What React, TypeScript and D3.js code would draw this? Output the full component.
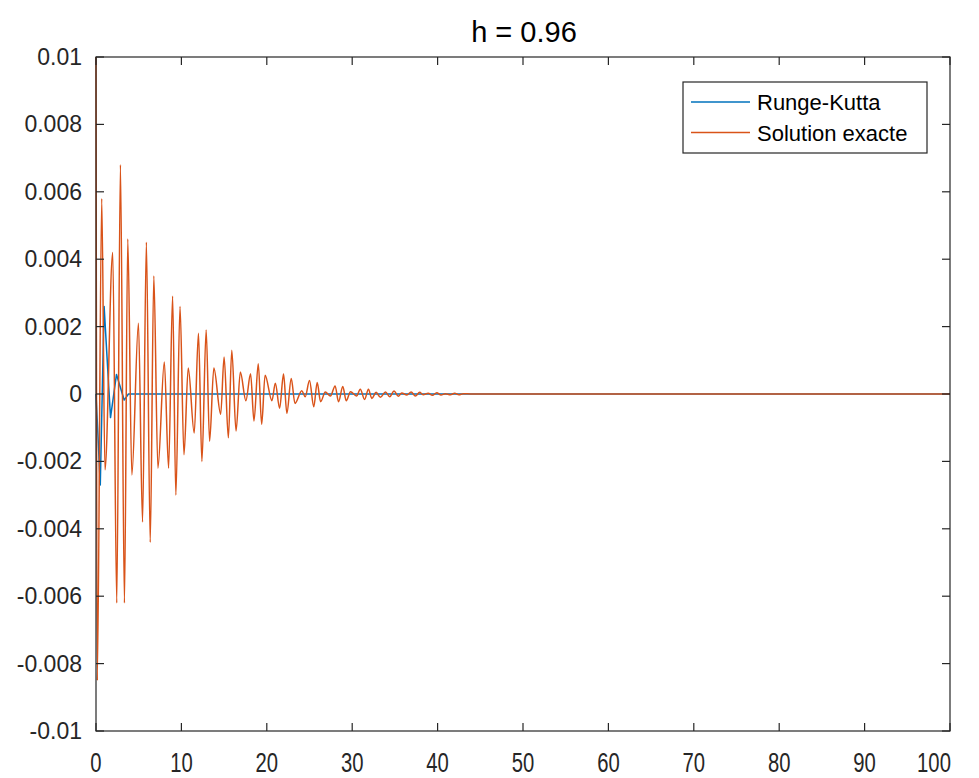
import React, { useEffect, useRef } from 'react';
import * as d3 from 'd3';

// tick labels
const xTicks = [0, 10, 20, 30, 40, 50, 60, 70, 80, 90, 100];
const yTicks = [-0.01, -0.008, -0.006, -0.004, -0.002, 0, 0.002, 0.004, 0.006, 0.008, 0.01];
const yTickLabels = ['-0.01', '-0.008', '-0.006', '-0.004', '-0.002', '0', '0.002', '0.004', '0.006', '0.008', '0.01'];

// Runge-Kutta
const rkT = [0, 0.5, 0.95, 1.7, 2.4, 3.3, 3.8, 100];
const rkV = [0, -0.0027, 0.0026, -0.0007, 0.00058, -0.00018, 0, 0];

// Solution exacte (peaks / troughs)
const exT = [
  0, 0.15, 0.67, 1.05, 1.96, 2.43, 2.86, 3.33, 3.72, 4.2, 4.97, 5.45, 5.9, 6.35, 6.77, 7.25,
  8.0, 8.5, 8.97, 9.35, 9.84, 10.3, 10.8, 11.5, 12.0, 12.4, 12.9, 13.3, 13.8, 14.6, 15.0, 15.5,
  15.9, 16.4, 16.9, 17.55, 18.1, 18.5, 19.0, 19.4, 19.8, 20.6, 21.0, 21.5, 21.96, 22.35, 22.86, 23.3,
  24.1, 24.5, 25.0, 25.5, 25.9, 26.3, 26.85, 27.45, 28.0, 28.4, 28.9, 29.3, 29.8, 30.5, 30.95, 31.45,
  31.9, 32.3, 32.8, 33.3, 33.9, 34.4, 34.9, 35.4, 35.8, 36.4, 36.9, 37.4, 37.9, 38.3, 38.9, 39.4,
  39.9, 40.4, 40.9, 41.5, 42.0, 42.5, 43.0, 44.0, 100
];
const exV = [
  0.01, -0.0085, 0.0058, -0.00225, 0.0042, -0.0062, 0.0068, -0.0062, 0.0046, -0.0024, 0.0021, -0.0038, 0.0045, -0.0044, 0.0035, -0.0022,
  0.00095, -0.0022, 0.0029, -0.003, 0.0026, -0.0018, 0.00077, -0.00116, 0.0018, -0.002, 0.0019, -0.0014, 0.00077, -0.0006, 0.0011, -0.0013,
  0.0013, -0.0011, 0.00065, -0.0002, 0.0006, -0.0008, 0.0009, -0.0009, 0.00056, -0.0002, 0.00032, -0.00042, 0.00059, -0.00057, 0.00046, -0.00028,
  0.0001, -0.00008, 0.0004, -0.00038, 0.00034, -0.00023, 0.00006, -0.00006, 0.00024, -0.00023, 0.00022, -0.0002, 0.00007, -0.00006, 0.00014, -0.00016,
  0.00014, -0.00013, 0.00005, -0.0001, 0.00006, -0.00008, 0.00009, -0.00007, 0.00003, -0.00003, 0.00006, -0.00006, 0.00005, -0.00002, 0.00002, -0.00004,
  0.00004, -0.00003, 0.00001, -0.00002, 0.00002, -0.00002, 0.00001, 0, 0
];

const seriesNames = ['Runge-Kutta', 'Solution exacte'];
const colors = ['#0072BD', '#D95319'];

export default function App() {
  const ref = useRef<SVGSVGElement>(null);

  useEffect(() => {
    const width = 979;
    const height = 778;
    const m = { l: 96, r: 29, t: 57, b: 47 };
    const font = '"Liberation Sans", Arial, sans-serif';
    const axisColor = '#262626';

    const svg = d3.select(ref.current).attr('width', width).attr('height', height);
    svg.selectAll('*').remove();

    const x = d3.scaleLinear().domain([0, 100]).range([m.l, width - m.r]);
    const y = d3.scaleLinear().domain([-0.01, 0.01]).range([height - m.b, m.t]);

    svg.append('rect').attr('width', width).attr('height', height).attr('fill', '#fff');

    // lines
    const rkLine = d3.line<[number, number]>().x(d => x(d[0])).y(d => y(d[1]));
    const exLine = d3.line<[number, number]>().x(d => x(d[0])).y(d => y(d[1])).curve(d3.curveMonotoneX);
    const rk: [number, number][] = rkT.map((t, i) => [t, rkV[i]]);
    const ex: [number, number][] = exT.map((t, i) => [t, exV[i]]);
    [[rk, rkLine], [ex, exLine]].forEach(([data, gen]: any, i) => {
      svg.append('path')
        .datum(data)
        .attr('d', gen)
        .attr('fill', 'none')
        .attr('stroke', colors[i])
        .attr('stroke-width', 1.5)
        .attr('stroke-linejoin', 'round');
    });

    // box + ticks (inward, MATLAB style)
    const tickLen = 8;
    const g = svg.append('g').attr('stroke', axisColor).attr('stroke-width', 1.2);
    g.append('rect')
      .attr('x', x(0)).attr('y', y(0.01))
      .attr('width', x(100) - x(0)).attr('height', y(-0.01) - y(0.01))
      .attr('fill', 'none');
    xTicks.forEach(t => {
      g.append('line').attr('x1', x(t)).attr('x2', x(t)).attr('y1', y(-0.01)).attr('y2', y(-0.01) - tickLen);
      g.append('line').attr('x1', x(t)).attr('x2', x(t)).attr('y1', y(0.01)).attr('y2', y(0.01) + tickLen);
    });
    yTicks.forEach(v => {
      g.append('line').attr('x1', x(0)).attr('x2', x(0) + tickLen).attr('y1', y(v)).attr('y2', y(v));
      g.append('line').attr('x1', x(100)).attr('x2', x(100) - tickLen).attr('y1', y(v)).attr('y2', y(v));
    });

    // tick labels (x labels look tall and narrow in the reference)
    svg.selectAll('.xlab').data(xTicks).join('text')
      .attr('class', 'xlab')
      .attr('transform', (d, i) => {
        const px = i === xTicks.length - 1 ? x(d) - 16 : x(d);
        return `translate(${px}, ${y(-0.01) + 41}) scale(0.75, 1)`;
      })
      .attr('text-anchor', 'middle')
      .attr('font-family', font).attr('font-size', 27).attr('fill', axisColor)
      .text(d => String(d));
    svg.selectAll('.ylab').data(yTicks).join('text')
      .attr('class', 'ylab')
      .attr('x', x(0) - 14).attr('y', d => y(d) + 8)
      .attr('text-anchor', 'end')
      .attr('font-family', font).attr('font-size', 23).attr('fill', axisColor)
      .text((d, i) => yTickLabels[i]);

    // title
    svg.append('text')
      .attr('x', 524).attr('y', 42)
      .attr('text-anchor', 'middle')
      .attr('font-family', font).attr('font-size', 29).attr('fill', '#000')
      .text('h = 0.96');

    // legend
    const legend = svg.append('g').attr('transform', 'translate(683, 82)');
    legend.append('rect')
      .attr('width', 244).attr('height', 71)
      .attr('fill', '#fff').attr('stroke', axisColor).attr('stroke-width', 1.2);
    seriesNames.forEach((name, i) => {
      const ly = 20 + i * 30.5;
      legend.append('line')
        .attr('x1', 8).attr('x2', 67).attr('y1', ly).attr('y2', ly)
        .attr('stroke', colors[i]).attr('stroke-width', 1.5);
      legend.append('text')
        .attr('x', 74).attr('y', ly + 8)
        .attr('font-family', font).attr('font-size', 22).attr('fill', '#000')
        .text(name);
    });
  }, []);

  return (
    <svg ref={ref} style={{ position: 'absolute', left: 0, top: 0 }} />
  );
}
